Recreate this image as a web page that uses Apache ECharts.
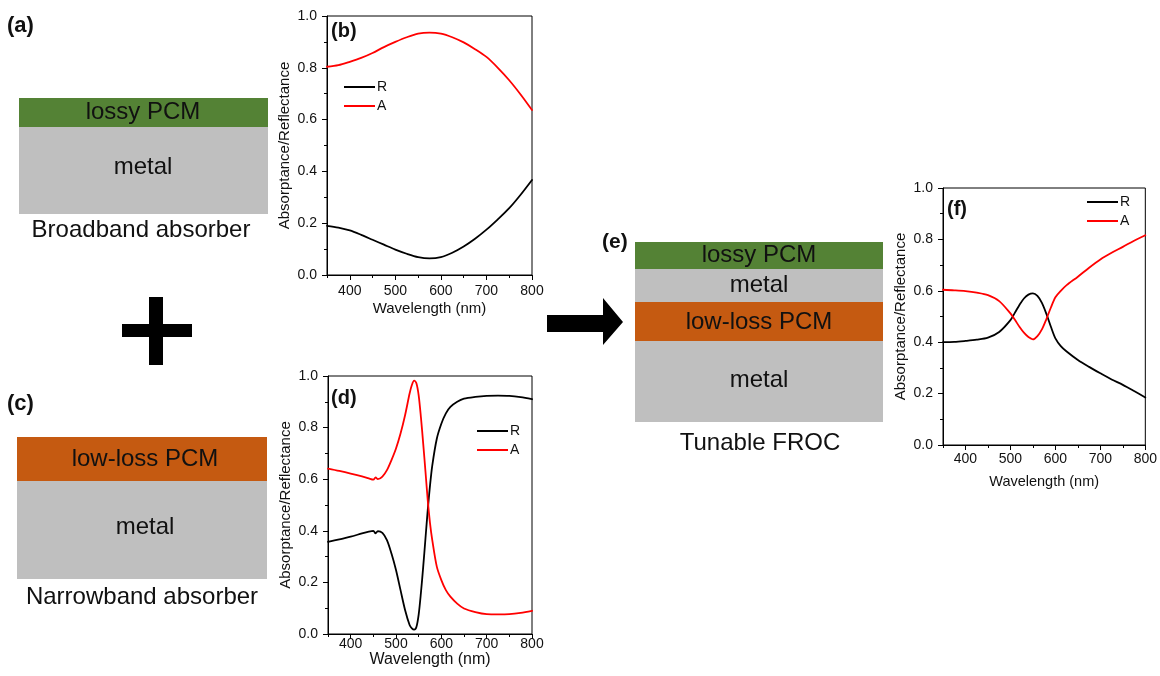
<!DOCTYPE html>
<html>
<head>
<meta charset="utf-8">
<script src="https://cdn.jsdelivr.net/npm/echarts@6/dist/echarts.min.js"></script>
<style>
html,body{margin:0;padding:0;background:#fff;}
#c{width:1160px;height:676px;}
</style>
</head>
<body>
<div id="c"></div>
<script>
// ---------- data ----------
const xTickValues = [400, 500, 600, 700, 800];

const wlB = [350,375,400,425,450,475,500,525,550,575,600,625,650,675,700,725,750,775,800];
const rB  = [0.190,0.183,0.172,0.155,0.136,0.117,0.098,0.082,0.069,0.064,0.069,0.086,0.110,0.140,0.175,0.215,0.258,0.310,0.367];
const aB  = [0.804,0.810,0.823,0.838,0.857,0.880,0.900,0.918,0.932,0.936,0.932,0.918,0.898,0.872,0.842,0.800,0.752,0.697,0.637];

const wlD = [350,375,400,425,440,450,455,460,470,480,490,500,510,520,530,535,540,545,550,555,560,565,570,575,580,590,600,610,620,635,650,675,700,725,750,775,800];
const aD  = [0.641,0.632,0.622,0.611,0.603,0.598,0.607,0.600,0.610,0.635,0.674,0.719,0.777,0.848,0.932,0.965,0.982,0.972,0.925,0.840,0.738,0.630,0.519,0.430,0.364,0.261,0.209,0.170,0.145,0.118,0.099,0.085,0.077,0.076,0.077,0.082,0.090];
const rD  = [0.357,0.367,0.377,0.390,0.397,0.400,0.390,0.399,0.392,0.364,0.312,0.248,0.170,0.093,0.035,0.022,0.017,0.027,0.075,0.160,0.260,0.370,0.480,0.575,0.653,0.757,0.815,0.855,0.880,0.900,0.912,0.919,0.923,0.924,0.923,0.918,0.910];

const wlF = [350,375,400,425,450,475,500,510,520,530,540,550,560,570,580,590,600,612,625,650,675,700,725,750,775,800];
const aF  = [0.604,0.602,0.599,0.593,0.583,0.560,0.512,0.487,0.460,0.437,0.420,0.411,0.424,0.450,0.490,0.535,0.575,0.600,0.622,0.655,0.690,0.722,0.748,0.771,0.795,0.816];
const rF  = [0.400,0.401,0.405,0.410,0.418,0.440,0.486,0.515,0.545,0.570,0.585,0.590,0.580,0.553,0.510,0.460,0.415,0.385,0.364,0.331,0.304,0.279,0.255,0.234,0.210,0.185];

const seriesNames = ['R', 'A'];
const xName = 'Wavelength (nm)';
const yName = 'Absorptance/Reflectance';

// ---------- layout ----------
const FONT = '"Liberation Sans", Arial, sans-serif';
const grids = [
  {left: 327, top: 16, width: 205, height: 259},
  {left: 328, top: 376, width: 204, height: 258},
  {left: 943, top: 188, width: 203, height: 257}
];
const xLab = [
  {margin: 9, nameGap: 26, nameSize: 15},
  {margin: 3, nameGap: 13, nameSize: 16},
  {margin: 7, nameGap: 29, nameSize: 14.5}
];

function pairs(xs, ys){ return xs.map((x,i)=>[x, ys[i]]); }

const xAxes = [], yAxes = [];
grids.forEach((g, i) => {
  xAxes.push({
    gridIndex: i, type: 'value', min: 350, max: 800, interval: 50,
    name: xName, nameLocation: 'middle', nameGap: xLab[i].nameGap,
    nameTextStyle: {fontFamily: FONT, fontSize: xLab[i].nameSize, color: '#111'},
    axisLine: {show: true, lineStyle: {color: '#000', width: 1}},
    axisTick: {show: true, length: 5, customValues: xTickValues, lineStyle: {color: '#000'}},
    axisLabel: {show: true, customValues: xTickValues, margin: xLab[i].margin, fontFamily: FONT, fontSize: 14, color: '#111',
      formatter: v => (v % 100 === 0 ? String(v) : '')},
    splitLine: {show: false}
  });
  xAxes.push({
    gridIndex: i, type: 'value', min: 350, max: 800, interval: 50, position: 'bottom',
    axisLine: {show: false}, axisLabel: {show: false},
    axisTick: {show: true, length: 3, lineStyle: {color: '#000'}},
    splitLine: {show: false}
  });
  yAxes.push({
    gridIndex: i, type: 'value', min: 0, max: 1, interval: 0.2,
    name: yName, nameLocation: 'middle', nameGap: 35,
    nameTextStyle: {fontFamily: FONT, fontSize: 15, color: '#111'},
    axisLine: {show: true, lineStyle: {color: '#000', width: 1}},
    axisTick: {show: true, length: 5, lineStyle: {color: '#000'}},
    minorTick: {show: true, splitNumber: 2, length: 3, lineStyle: {color: '#000'}},
    axisLabel: {margin: 10, fontFamily: FONT, fontSize: 14, color: '#111', formatter: v => v.toFixed(1)},
    splitLine: {show: false}, minorSplitLine: {show: false}
  });
});

const panelData = [[wlB, rB, aB], [wlD, rD, aD], [wlF, rF, aF]];
const series = [];
panelData.forEach((p, i) => {
  series.push({
    name: seriesNames[0], type: 'line', xAxisIndex: 2*i, yAxisIndex: i,
    data: pairs(p[0], p[1]), symbol: 'none', showSymbol: false, smooth: 0.3,
    lineStyle: {color: '#000', width: 1.8, join: 'round', cap: 'round'}, itemStyle: {color: '#000'}, z: 3
  });
  series.push({
    name: seriesNames[1], type: 'line', xAxisIndex: 2*i, yAxisIndex: i,
    data: pairs(p[0], p[2]), symbol: 'none', showSymbol: false, smooth: 0.3,
    lineStyle: {color: '#ff0000', width: 1.8, join: 'round', cap: 'round'}, itemStyle: {color: '#ff0000'}, z: 3
  });
});

const legendPos = [{left: 344, top: 80}, {left: 477, top: 424}, {left: 1087, top: 195}];
const legends = legendPos.map(p => ({
  left: p.left, top: p.top, orient: 'vertical', itemGap: 5, itemWidth: 31, itemHeight: 2,
  icon: 'rect', selectedMode: false, data: seriesNames, padding: 0,
  textStyle: {fontFamily: FONT, fontSize: 14, color: '#111', padding: [0,0,0,-3], lineHeight: 14}
}));

// ---------- schematic graphics ----------
const GREEN = '#548235', ORANGE = '#C55A11', GRAY = '#BFBFBF';
function rect(x, y, w, h, fill){ return {type: 'rect', shape: {x, y, width: w, height: h}, style: {fill}, silent: true}; }
function txt(x, y, t, size, bold, align){
  return {type: 'text', x, y, silent: true, z: 10,
    style: {text: t, fill: '#111', font: (bold ? 'bold ' : '') + size + 'px ' + FONT,
      textAlign: align || 'center', textVerticalAlign: 'middle'}};
}
const graphics = [
  // (a)
  rect(19, 98, 249, 29, GREEN), rect(19, 127, 249, 87, GRAY),
  txt(143, 112, 'lossy PCM', 24), txt(143, 167, 'metal', 24), txt(141, 230, 'Broadband absorber', 24),
  // (c)
  rect(17, 437, 250, 44, ORANGE), rect(17, 481, 250, 98, GRAY),
  txt(145, 459, 'low-loss PCM', 24), txt(145, 527, 'metal', 24), txt(142, 597, 'Narrowband absorber', 24),
  // (e)
  rect(635, 242, 248, 27, GREEN), rect(635, 269, 248, 33, GRAY),
  rect(635, 302, 248, 39, ORANGE), rect(635, 341, 248, 81, GRAY),
  txt(759, 255, 'lossy PCM', 24), txt(759, 285, 'metal', 24), txt(759, 322, 'low-loss PCM', 24),
  txt(759, 380, 'metal', 24), txt(760, 443, 'Tunable FROC', 24),
  // plus sign
  rect(149, 297, 14, 68, '#000'), rect(122, 324, 70, 13, '#000'),
  // arrow
  {type: 'polygon', silent: true, shape: {points: [[547,315],[603,315],[603,298],[623,322],[603,345],[603,332],[547,332]]}, style: {fill: '#000'}},
  // panel labels
  txt(7, 26, '(a)', 22, true, 'left'), txt(7, 404, '(c)', 22, true, 'left'), txt(602, 242, '(e)', 21, true, 'left'),
  txt(331, 31, '(b)', 20, true, 'left'), txt(331, 398, '(d)', 20, true, 'left'), txt(947, 209, '(f)', 20, true, 'left')
];

const chart = echarts.init(document.getElementById('c'), null, {renderer: 'canvas'});
chart.setOption({
  backgroundColor: '#fff',
  animation: false,
  grid: grids.map(g => Object.assign({show: true, borderColor: '#000', borderWidth: 1, backgroundColor: 'transparent'}, g)),
  xAxis: xAxes,
  yAxis: yAxes,
  legend: legends,
  series: series,
  graphic: {elements: graphics}
});
</script>
</body>
</html>
